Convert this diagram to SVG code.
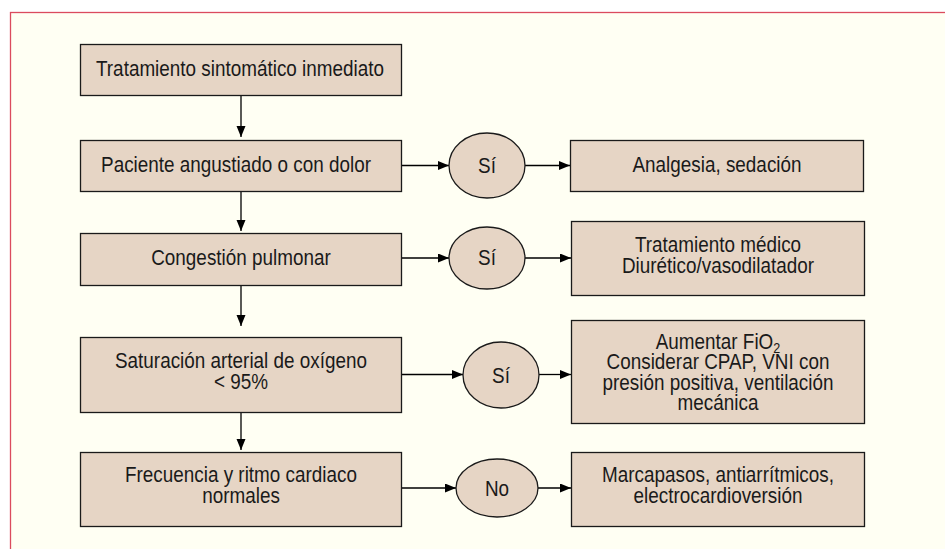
<svg xmlns="http://www.w3.org/2000/svg" width="945" height="549" viewBox="0 0 945 549">
<defs>
<style>
.box{fill:#E6D5C5;stroke:#1a1a1a;stroke-width:1.3}
.t{font-family:"Liberation Sans",Arial,sans-serif;font-size:22.5px;fill:#1a1a1a;text-anchor:middle}
.c{stroke:#000;stroke-width:1.3;fill:none;marker-end:url(#ah)}
</style>
<marker id="ah" markerUnits="userSpaceOnUse" markerWidth="12" markerHeight="10" refX="11" refY="4.5" orient="auto">
<path d="M0,0 L11,4.5 L0,9 Z" fill="#000"/>
</marker>
</defs>
<rect x="0" y="0" width="945" height="549" fill="#ffffff"/>
<rect x="10.5" y="12.5" width="945" height="545" fill="#FFFFF3" stroke="#DB4B5E" stroke-width="1.3"/>
<g id="connectors">
<line class="c" x1="241" y1="95" x2="241" y2="137"/>
<line class="c" x1="241" y1="191" x2="241" y2="231"/>
<line class="c" x1="241" y1="285" x2="241" y2="326"/>
<line class="c" x1="241" y1="412" x2="241" y2="450"/>
<line class="c" x1="401" y1="165.5" x2="449" y2="165.5"/>
<line class="c" x1="525" y1="165.5" x2="570" y2="165.5"/>
<line class="c" x1="401" y1="258" x2="449" y2="258"/>
<line class="c" x1="525" y1="258" x2="571" y2="258"/>
<line class="c" x1="401" y1="374.5" x2="463" y2="374.5"/>
<line class="c" x1="539" y1="374.5" x2="571" y2="374.5"/>
<line class="c" x1="401" y1="488" x2="456" y2="488"/>
<line class="c" x1="538" y1="488" x2="571" y2="488"/>
</g>
<g id="n1"><rect class="box" x="80.5" y="44.5" width="321" height="51"/><text class="t" transform="translate(240,76) scale(0.84,1)">Tratamiento sintomático inmediato</text></g>
<g id="n2"><rect class="box" x="80.5" y="140.5" width="321" height="51"/><text class="t" transform="translate(236,172) scale(0.84,1)">Paciente angustiado o con dolor</text></g>
<g id="n3"><rect class="box" x="80.5" y="233.5" width="321" height="52"/><text class="t" transform="translate(241,265) scale(0.84,1)">Congestión pulmonar</text></g>
<g id="n4"><rect class="box" x="80.5" y="337.5" width="321" height="75"/><text class="t" transform="translate(241,368) scale(0.84,1)">Saturación arterial de oxígeno</text><text class="t" transform="translate(241,389) scale(0.84,1)">&lt; 95%</text></g>
<g id="n5"><rect class="box" x="80.5" y="452.5" width="321" height="74"/><text class="t" transform="translate(241,482) scale(0.84,1)">Frecuencia y ritmo cardiaco</text><text class="t" transform="translate(241,503) scale(0.84,1)">normales</text></g>
<g id="e1"><ellipse class="box" cx="487" cy="165.5" rx="38" ry="32.5"/><text class="t" transform="translate(487,173) scale(0.84,1)">Sí</text></g>
<g id="e2"><ellipse class="box" cx="487" cy="258" rx="38" ry="31"/><text class="t" transform="translate(487,265) scale(0.84,1)">Sí</text></g>
<g id="e3"><ellipse class="box" cx="501" cy="375" rx="38" ry="33"/><text class="t" transform="translate(501,383) scale(0.84,1)">Sí</text></g>
<g id="e4"><ellipse class="box" cx="497" cy="488" rx="41" ry="29"/><text class="t" transform="translate(497,496) scale(0.84,1)">No</text></g>
<g id="r1"><rect class="box" x="570.5" y="140.5" width="293" height="51"/><text class="t" transform="translate(717,172) scale(0.84,1)">Analgesia, sedación</text></g>
<g id="r2"><rect class="box" x="571.5" y="221.5" width="293" height="74"/><text class="t" transform="translate(718,252) scale(0.84,1)">Tratamiento médico</text><text class="t" transform="translate(718,273) scale(0.84,1)">Diurético/vasodilatador</text></g>
<g id="r3"><rect class="box" x="571.5" y="320.5" width="293" height="103"/><text class="t" transform="translate(718,349) scale(0.84,1)">Aumentar FiO<tspan font-size="15" dy="4">2</tspan></text><text class="t" transform="translate(718,369) scale(0.84,1)">Considerar CPAP, VNI con</text><text class="t" transform="translate(718,390) scale(0.84,1)">presión positiva, ventilación</text><text class="t" transform="translate(718,410) scale(0.84,1)">mecánica</text></g>
<g id="r4"><rect class="box" x="571.5" y="452.5" width="293" height="74"/><text class="t" transform="translate(718,482) scale(0.84,1)">Marcapasos, antiarrítmicos,</text><text class="t" transform="translate(718,503) scale(0.84,1)">electrocardioversión</text></g>
</svg>
